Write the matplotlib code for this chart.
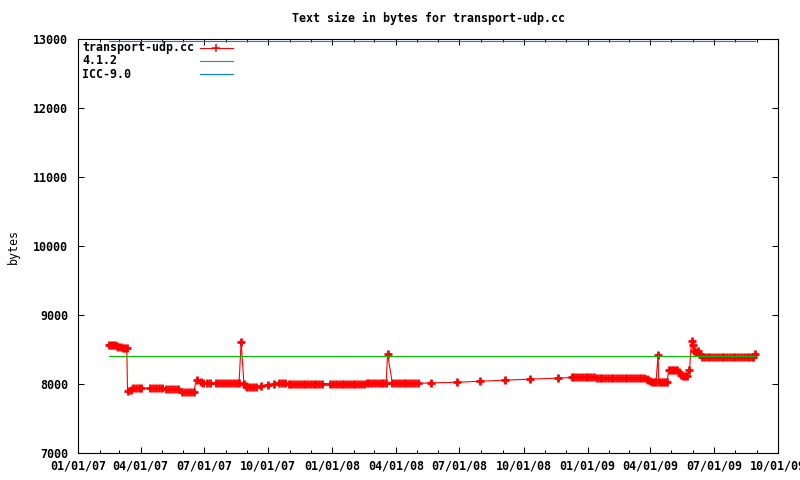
import numpy as np
import matplotlib
matplotlib.use('Agg')
import matplotlib.pyplot as plt
import matplotlib.dates as mdates

# text size samples (date, bytes)
dates = [
    '2007-02-14', '2007-02-17', '2007-02-20', '2007-02-23', '2007-02-26', '2007-02-28',
    '2007-03-03', '2007-03-06', '2007-03-09', '2007-03-12',
    '2007-03-13', '2007-03-18', '2007-03-21', '2007-03-25', '2007-03-29', '2007-04-02',
    '2007-04-14', '2007-04-18', '2007-04-23', '2007-04-27', '2007-05-01',
    '2007-05-07', '2007-05-11', '2007-05-16', '2007-05-20', '2007-05-24',
    '2007-05-30', '2007-06-03', '2007-06-08', '2007-06-12', '2007-06-16',
    '2007-06-20', '2007-06-26', '2007-06-30', '2007-07-05', '2007-07-09',
    '2007-07-18', '2007-07-22', '2007-07-26', '2007-07-31', '2007-08-04', '2007-08-08',
    '2007-08-13', '2007-08-17', '2007-08-20',
    '2007-08-23', '2007-08-27', '2007-08-30',
    '2007-09-01', '2007-09-05', '2007-09-09', '2007-09-13',
    '2007-09-21', '2007-09-30', '2007-10-09',
    '2007-10-16', '2007-10-20', '2007-10-25',
    '2007-10-30', '2007-11-03', '2007-11-07', '2007-11-11', '2007-11-15', '2007-11-19',
    '2007-11-23', '2007-11-27', '2007-12-01', '2007-12-05', '2007-12-09', '2007-12-13',
    '2007-12-17',
    '2007-12-29', '2008-01-02', '2008-01-06', '2008-01-10', '2008-01-14', '2008-01-18',
    '2008-01-22', '2008-01-26', '2008-01-30', '2008-02-03', '2008-02-07', '2008-02-11',
    '2008-02-15',
    '2008-02-19', '2008-02-23', '2008-02-27', '2008-03-02', '2008-03-06', '2008-03-10',
    '2008-03-14', '2008-03-18',
    '2008-03-20', '2008-03-27',
    '2008-03-31', '2008-04-04', '2008-04-08', '2008-04-12', '2008-04-16', '2008-04-20',
    '2008-04-24', '2008-04-28', '2008-05-02',
    '2008-05-21', '2008-06-27', '2008-07-30', '2008-09-04', '2008-10-10', '2008-11-19',
    '2008-12-09',
    '2008-12-13', '2008-12-17', '2008-12-21', '2008-12-25', '2008-12-29', '2009-01-02',
    '2009-01-06', '2009-01-10',
    '2009-01-14', '2009-01-18', '2009-01-22', '2009-01-26', '2009-01-30', '2009-02-03',
    '2009-02-07', '2009-02-11', '2009-02-15', '2009-02-19', '2009-02-23', '2009-02-27',
    '2009-03-03', '2009-03-07', '2009-03-11', '2009-03-15', '2009-03-19', '2009-03-23',
    '2009-03-27', '2009-03-29', '2009-03-31', '2009-04-03', '2009-04-06', '2009-04-09',
    '2009-04-12',
    '2009-04-13', '2009-04-16', '2009-04-19', '2009-04-22', '2009-04-25',
    '2009-04-27', '2009-04-30', '2009-05-03', '2009-05-06', '2009-05-09', '2009-05-12',
    '2009-05-15', '2009-05-18', '2009-05-21', '2009-05-24', '2009-05-27',
    '2009-05-30', '2009-06-01', '2009-06-03', '2009-06-05', '2009-06-08', '2009-06-11',
    '2009-06-14', '2009-06-18', '2009-06-22', '2009-06-26', '2009-06-30', '2009-07-04',
    '2009-07-08', '2009-07-12', '2009-07-16', '2009-07-20', '2009-07-24', '2009-07-28',
    '2009-08-01', '2009-08-05', '2009-08-09', '2009-08-13', '2009-08-17', '2009-08-21',
    '2009-08-24', '2009-08-26', '2009-08-29',
]
sizes = [
    8570, 8570, 8565, 8560, 8550, 8530,
    8530, 8525, 8525, 8520,
    7900, 7920, 7935, 7935, 7935, 7935,
    7940, 7940, 7940, 7940, 7940,
    7925, 7925, 7925, 7925, 7925,
    7885, 7885, 7885, 7885, 7885,
    8065, 8030, 8015, 8015, 8015,
    8015, 8015, 8015, 8015, 8015, 8015,
    8015, 8015, 8015,
    8610, 8000, 7965,
    7960, 7960, 7960, 7960,
    7975, 7990, 8000,
    8020, 8020, 8020,
    8005, 8005, 8005, 8005, 8005, 8005,
    8005, 8005, 8005, 8005, 8005, 8005,
    8005,
    8000, 8000, 8000, 8000, 8000, 8000,
    8000, 8000, 8000, 8000, 8000, 8000,
    8000,
    8010, 8010, 8010, 8010, 8010, 8010,
    8010, 8010,
    8430, 8010,
    8010, 8010, 8010, 8010, 8010, 8010,
    8010, 8010, 8010,
    8015, 8025, 8040, 8055, 8070, 8085,
    8095,
    8095, 8095, 8095, 8095, 8095, 8095,
    8095, 8095,
    8085, 8085, 8085, 8085, 8085, 8085,
    8085, 8085, 8085, 8085, 8085, 8085,
    8085, 8085, 8085, 8085, 8085, 8085,
    8070, 8060, 8045, 8035, 8030, 8030,
    8420,
    8030, 8035, 8030, 8035, 8030,
    8200, 8200, 8200, 8200, 8200, 8175,
    8130, 8120, 8115, 8120, 8200,
    8620, 8560, 8480, 8470, 8480, 8440,
    8385, 8385, 8385, 8385, 8385, 8385,
    8385, 8385, 8385, 8385, 8385, 8385,
    8385, 8385, 8385, 8385, 8385, 8385,
    8385, 8390, 8440,
]

# reference compilers (constant)
gcc_412 = 8410
icc_90 = 12965

labels = ['transport-udp.cc', '4.1.2', 'ICC-9.0']
colors = ['#ff0000', '#00c000', '#0080ff']

plt.rcParams['font.family'] = ['DejaVu Sans Mono']
plt.rcParams['font.weight'] = 'bold'
plt.rcParams['font.size'] = 8.4

fig = plt.figure(figsize=(8, 4.8), dpi=100)
ax = fig.add_axes([78 / 800, 1 - 453 / 480, 700 / 800, 414 / 480])

d = np.array(dates, dtype='datetime64[D]')
ax.plot(d, sizes, color=colors[0], lw=0.8, marker='+', ms=5.8, mew=2.0)
ax.plot([d[0], d[-1]], [gcc_412, gcc_412], color=colors[1], lw=0.8)
ax.plot([d[0], d[-1]], [icc_90, icc_90], color=colors[2], lw=0.8)

ax.set_xlim(np.datetime64('2007-01-01'), np.datetime64('2009-10-01'))
ax.set_ylim(7000, 13000)
ax.set_yticks(range(7000, 13001, 1000))
ax.xaxis.set_major_locator(mdates.MonthLocator(bymonth=[1, 4, 7, 10]))
ax.xaxis.set_minor_locator(mdates.MonthLocator())
ax.xaxis.set_major_formatter(mdates.DateFormatter('%m/%d/%y'))

ax.tick_params(which='both', direction='in', top=True, right=True, width=0.75)
ax.tick_params(which='major', length=4.5)
ax.tick_params(which='minor', length=2.5)
ax.tick_params(axis='y', pad=7)
ax.tick_params(axis='x', pad=5)
for s in ax.spines.values():
    s.set_linewidth(0.8)

ax.set_ylabel('bytes')
ax.yaxis.set_label_coords(-0.083, 0.5)
fig.text(428 / 800, 1 - 18 / 480, 'Text size in bytes for transport-udp.cc',
         ha='center', va='center')

# gnuplot style key: label first, sample on the right
rows = [0.979, 0.947, 0.915]
for lab, col, y in zip(labels, colors, rows):
    ax.text(0.006, y, lab, transform=ax.transAxes, ha='left', va='center')
    ax.plot([0.174, 0.221], [y, y], color=col, lw=0.8,
            transform=ax.transAxes, clip_on=False)
ax.plot([0.1975], [rows[0]], color=colors[0], marker='+', ms=5.8, mew=1.1,
        transform=ax.transAxes, clip_on=False)

fig.savefig('out.png', dpi=100)
